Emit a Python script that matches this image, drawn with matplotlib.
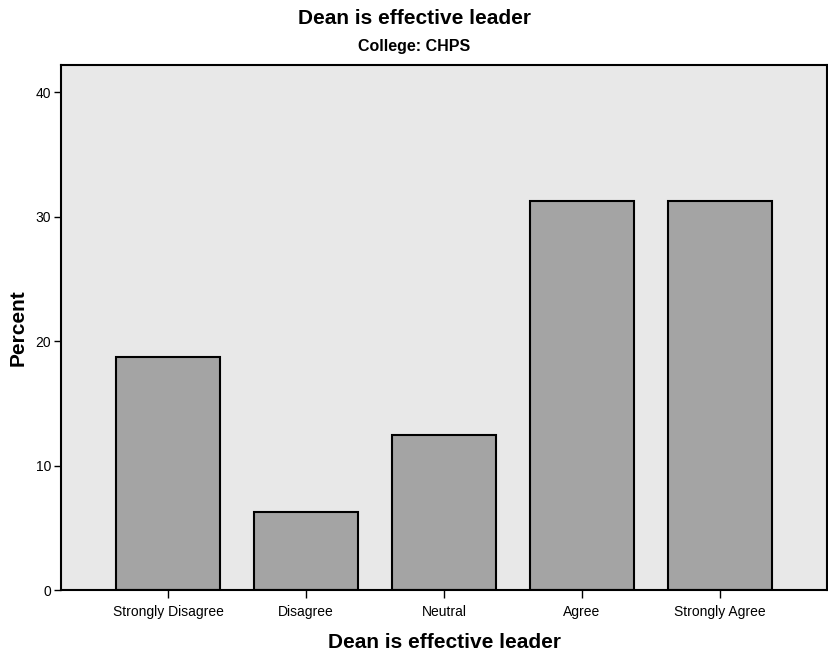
import matplotlib
matplotlib.use('Agg')
import matplotlib.pyplot as plt

categories = ['Strongly Disagree', 'Disagree', 'Neutral', 'Agree', 'Strongly Agree']
percents = [18.75, 6.25, 12.5, 31.25, 31.25]
yticks = [0, 10, 20, 30, 40]

plt.rcParams['font.family'] = ['Liberation Sans', 'DejaVu Sans']


def main():
    fig = plt.figure(figsize=(8.29, 6.55), dpi=100)
    ax = fig.add_axes([0.0736, 0.0992, 0.9240, 0.8016])
    ax.set_facecolor('#e8e8e8')

    x = list(range(len(categories)))
    ax.bar(x, percents, width=0.75, color='#a4a4a4', edgecolor='black', linewidth=1.5)

    ax.set_xlim(-0.775, 4.775)
    ax.set_ylim(0, 42.2)
    ax.set_yticks(yticks)
    ax.set_xticks(x)
    ax.set_xticklabels(categories, fontsize=10)
    ax.tick_params(axis='y', labelsize=10, length=5, width=1, pad=2)
    ax.tick_params(axis='x', length=6, width=1, pad=5)
    for sp in ax.spines.values():
        sp.set_linewidth(1.5)

    ax.set_ylabel('Percent', fontsize=15, fontweight='bold', labelpad=6)
    ax.set_xlabel('Dean is effective leader', fontsize=15, fontweight='bold', labelpad=10)

    fig.text(0.5, 0.971, 'Dean is effective leader', ha='center', va='center',
             fontsize=15, fontweight='bold')
    fig.text(0.5, 0.929, 'College: CHPS', ha='center', va='center',
             fontsize=11.5, fontweight='bold')

    fig.savefig('out.png', dpi=100)


if __name__ == '__main__':
    main()
